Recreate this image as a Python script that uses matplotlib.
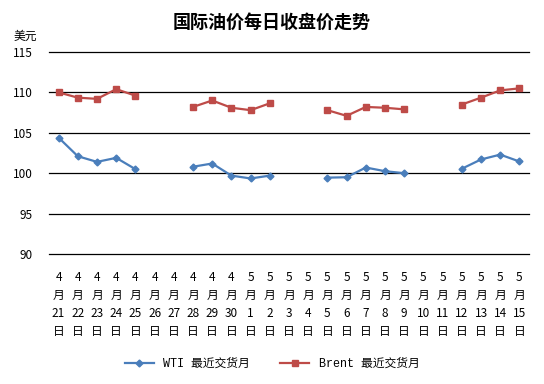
import numpy as np
import matplotlib
matplotlib.use("Agg")
import matplotlib.pyplot as plt

plt.rcParams['font.family'] = ['Noto Sans CJK SC', 'DejaVu Sans']

# =========================
# Data
# =========================
months = ["4"] * 10 + ["5"] * 15
days = ["21", "22", "23", "24", "25", "26", "27", "28", "29", "30",
        "1", "2", "3", "4", "5", "6", "7", "8", "9", "10",
        "11", "12", "13", "14", "15"]
x_labels = [f"{m}\n月\n{d}\n日" for m, d in zip(months, days)]

nan = np.nan
wti = [104.4, 102.1, 101.4, 101.9, 100.5, nan, nan, 100.8, 101.2, 99.7,
       99.35, 99.7, nan, nan, 99.45, 99.5, 100.7, 100.25, 100.0, nan,
       nan, 100.55, 101.7, 102.3, 101.45]
brent = [110.0, 109.35, 109.2, 110.4, 109.6, nan, nan, 108.2, 109.0, 108.1,
         107.8, 108.65, nan, nan, 107.8, 107.1, 108.2, 108.1, 107.9, nan,
         nan, 108.5, 109.35, 110.25, 110.5]

y_ticks = [90, 95, 100, 105, 110, 115]

# =========================
# Plot
# =========================
fig = plt.figure(figsize=(5.44, 3.84), dpi=100)
ax = fig.add_axes([49 / 544, 1 - 254 / 384, 480 / 544, 202 / 384])

x = np.arange(len(x_labels))
ax.plot(x, wti, color="#4A7EBB", lw=1.6, marker="D", ms=3.5,
        label="WTI 最近交货月")
ax.plot(x, brent, color="#BE4B48", lw=1.6, marker="s", ms=4.5,
        label="Brent 最近交货月")

ax.set_xlim(-0.5, len(x_labels) - 0.5)
ax.set_ylim(90, 115)
ax.set_yticks(y_ticks)
ax.set_xticks(x)
ax.set_xticklabels(x_labels, fontsize=8.5, linespacing=1.5, va="top")
ax.tick_params(axis="both", length=0, labelsize=8.5)
ax.tick_params(axis="x", pad=12)
ax.tick_params(axis="y", pad=12)
ax.grid(axis="y", color="black", lw=0.9)
for gl in ax.get_ygridlines():
    gl.set_clip_on(False)
ax.set_axisbelow(True)
for s in ax.spines.values():
    s.set_visible(False)

fig.text(0.5, 1 - 22 / 384, "国际油价每日收盘价走势", ha="center", va="center",
         fontsize=13, fontweight="bold")
fig.text(25 / 544, 1 - 36 / 384, "美元", ha="center", va="center", fontsize=8.5)

leg = fig.legend(loc="center", bbox_to_anchor=(0.5, 1 - 364 / 384), ncol=2,
                 frameon=False, handlelength=2.5, columnspacing=2.5,
                 prop={"family": ["Liberation Mono", "Noto Sans CJK SC"], "size": 8.5})

fig.savefig("out.png", dpi=100)
